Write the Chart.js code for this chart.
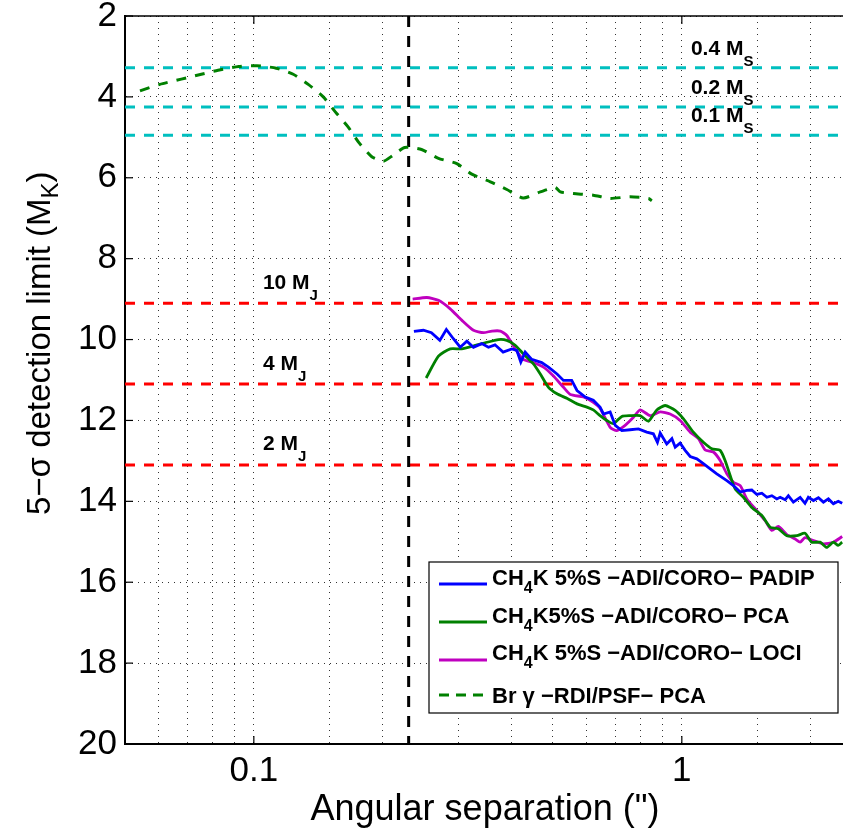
<html>
<head>
<script src="https://cdn.jsdelivr.net/npm/chart.js"></script>
<style>
  body { margin: 0; background: #fff; }
  #wrap { width: 843px; height: 833px; }
</style>
</head>
<body>
<div id="wrap"><canvas id="limits" width="843" height="833"></canvas></div>

<script>
// --- data ---
const xRange = [0.05, 2.38];
const yRange = [2, 20];
const yTicks = [2, 4, 6, 8, 10, 12, 14, 16, 18, 20];
const xTickLabels = [0.1, 1];

// Br gamma, RDI/PSF, PCA (dashed green)
const brgSep = [0.0542, 0.0603, 0.0677, 0.0754, 0.0825, 0.0922, 0.1017, 0.1128, 0.1236, 0.134, 0.1453, 0.155, 0.166, 0.176, 0.1886, 0.2008, 0.2117, 0.2253, 0.2465, 0.27, 0.298, 0.323, 0.357, 0.39, 0.426, 0.467, 0.506, 0.52, 0.558, 0.621, 0.68, 0.757, 0.836, 0.851];
const brgMag = [3.85, 3.69, 3.56, 3.44, 3.34, 3.25, 3.23, 3.29, 3.44, 3.69, 4.0, 4.37, 4.74, 5.13, 5.48, 5.59, 5.44, 5.25, 5.30, 5.52, 5.65, 5.91, 6.10, 6.29, 6.50, 6.35, 6.24, 6.35, 6.39, 6.43, 6.51, 6.47, 6.51, 6.57];

// CH4K 5%S ADI/CORO PADIP (blue)
const padipSep = [0.2366, 0.249, 0.26, 0.272, 0.2817, 0.2926, 0.3035, 0.3146, 0.3259, 0.3408, 0.3533, 0.366, 0.3823, 0.4006, 0.4117, 0.4205, 0.4305, 0.446, 0.4706, 0.488, 0.511, 0.529, 0.553, 0.569, 0.595, 0.621, 0.644, 0.656, 0.68, 0.699, 0.724, 0.757, 0.792, 0.828, 0.858, 0.877, 0.89, 0.922, 0.948, 0.965, 0.991, 1.018, 1.046, 1.084, 1.123, 1.165, 1.207, 1.274, 1.32, 1.369, 1.419, 1.457, 1.497, 1.538, 1.58, 1.623, 1.667, 1.697, 1.744, 1.774, 1.822, 1.89, 1.94, 1.975, 2.03, 2.085, 2.142, 2.2, 2.26, 2.32, 2.37];
const padipMag = [9.80, 9.77, 9.83, 10.02, 9.75, 9.98, 10.19, 10.04, 10.19, 10.10, 10.19, 10.13, 10.31, 10.23, 10.27, 10.56, 10.31, 10.49, 10.57, 10.68, 10.85, 11.01, 11.01, 11.26, 11.42, 11.50, 11.67, 11.84, 11.79, 12.12, 12.25, 12.23, 12.21, 12.29, 12.33, 12.54, 12.31, 12.58, 12.45, 12.66, 12.56, 12.74, 12.89, 12.95, 13.07, 13.20, 13.32, 13.49, 13.61, 13.77, 13.73, 13.72, 13.83, 13.80, 13.90, 13.86, 13.94, 13.90, 13.96, 13.86, 14.02, 13.90, 14.05, 13.90, 13.98, 13.91, 14.02, 13.94, 14.06, 14.00, 14.05];

// CH4K5%S ADI/CORO PCA (green)
const pcaSep = [0.2527, 0.27, 0.2876, 0.306, 0.3259, 0.347, 0.373, 0.39, 0.408, 0.426, 0.45, 0.467, 0.488, 0.511, 0.54, 0.569, 0.60, 0.621, 0.644, 0.668, 0.692, 0.724, 0.757, 0.799, 0.836, 0.874, 0.914, 0.965, 1.009, 1.064, 1.123, 1.175, 1.229, 1.262, 1.297, 1.332, 1.393, 1.457, 1.538, 1.608, 1.681, 1.759, 1.857, 1.94, 2.01, 2.105, 2.18, 2.26, 2.32, 2.37];
const pcaMag = [10.95, 10.41, 10.23, 10.23, 10.16, 10.08, 10.00, 10.02, 10.14, 10.35, 10.60, 10.85, 11.18, 11.34, 11.46, 11.59, 11.67, 11.74, 11.88, 12.00, 12.08, 11.90, 11.88, 11.88, 12.02, 11.74, 11.63, 11.75, 11.96, 12.29, 12.54, 12.70, 12.74, 12.99, 13.36, 13.69, 13.90, 14.15, 14.35, 14.64, 14.68, 14.85, 14.85, 14.79, 15.01, 15.01, 15.14, 15.01, 15.09, 15.01];

// CH4K 5%S ADI/CORO LOCI (magenta)
const lociSep = [0.235, 0.2536, 0.27, 0.2876, 0.306, 0.3259, 0.344, 0.36, 0.3767, 0.39, 0.408, 0.426, 0.45, 0.475, 0.5, 0.529, 0.549, 0.589, 0.621, 0.644, 0.68, 0.705, 0.737, 0.771, 0.799, 0.843, 0.89, 0.939, 0.991, 1.046, 1.093, 1.134, 1.185, 1.229, 1.274, 1.32, 1.369, 1.419, 1.497, 1.566, 1.623, 1.681, 1.759, 1.84, 1.89, 1.94, 2.03, 2.142, 2.26, 2.37];
const lociMag = [9.00, 8.96, 9.03, 9.24, 9.52, 9.77, 9.83, 9.79, 9.79, 9.90, 10.23, 10.49, 10.57, 10.68, 10.89, 11.18, 11.36, 11.42, 11.55, 11.70, 12.17, 12.25, 12.12, 11.92, 11.74, 11.88, 11.79, 11.84, 12.00, 12.29, 12.45, 12.73, 12.78, 12.99, 13.32, 13.53, 13.61, 13.94, 14.23, 14.48, 14.72, 14.62, 14.82, 14.93, 15.01, 14.90, 14.97, 15.05, 15.01, 14.87];

// mass levels
const stellarLevels = [3.28, 4.25, 4.95];
const stellarNames = ['0.4', '0.2', '0.1'];
const planetLevels = [9.1, 11.1, 13.1];
const planetNames = ['10', '4', '2'];
const maskEdge = 0.23;

const FONT = "'Liberation Sans', Arial, Helvetica, sans-serif";

function pts(xs, ys) {
    return xs.map((x, i) => ({x: x, y: ys[i]}));
}

function hline(level, color) {
    return {
        data: [{x: xRange[0], y: level}, {x: xRange[1], y: level}],
        borderColor: color, borderWidth: 3, borderDash: [10, 9],
        pointRadius: 0, fill: false
    };
}

let datasets = [
    {label: 'padip', data: pts(padipSep, padipMag), borderColor: 'rgb(0,0,255)', borderWidth: 2.8, pointRadius: 0, tension: 0},
    {label: 'pca', data: pts(pcaSep, pcaMag), borderColor: 'rgb(0,128,0)', borderWidth: 2.8, pointRadius: 0, tension: 0.2},
    {label: 'loci', data: pts(lociSep, lociMag), borderColor: 'rgb(191,0,191)', borderWidth: 2.8, pointRadius: 0, tension: 0.2},
    {label: 'brg', data: pts(brgSep, brgMag), borderColor: 'rgb(0,128,0)', borderWidth: 3, borderDash: [10, 9], pointRadius: 0, tension: 0.2},
    {label: 'mask', data: [{x: maskEdge, y: yRange[0]}, {x: maskEdge, y: yRange[1]}], borderColor: '#000', borderWidth: 3, borderDash: [11, 9], pointRadius: 0}
];
stellarLevels.forEach(l => datasets.push(hline(l, 'rgb(0,191,191)')));
planetLevels.forEach(l => datasets.push(hline(l, 'rgb(255,0,0)')));

// draws "main" then a subscript, returns end x
function subText(ctx, x, y, main, sub, size, subSize, drop, weight) {
    ctx.font = weight + ' ' + size + 'px ' + FONT;
    ctx.fillText(main, x, y);
    let w = ctx.measureText(main).width;
    ctx.font = weight + ' ' + subSize + 'px ' + FONT;
    ctx.fillText(sub, x + w, y + drop);
    return x + w + ctx.measureText(sub).width;
}

const decorations = {
    id: 'decorations',
    afterDraw(chart) {
        const ctx = chart.ctx;
        const xs = chart.scales.x, ys = chart.scales.y;
        const area = chart.chartArea;
        ctx.save();
        ctx.fillStyle = '#000';
        ctx.textAlign = 'left';
        ctx.textBaseline = 'alphabetic';

        // top border
        ctx.strokeStyle = '#000';
        ctx.lineWidth = 1.5;
        ctx.beginPath();
        ctx.moveTo(area.left, area.top);
        ctx.lineTo(area.right, area.top);
        ctx.stroke();

        // inward tick marks
        ctx.lineWidth = 1.2;
        yTicks.forEach(v => {
            let py = ys.getPixelForValue(v);
            ctx.beginPath();
            ctx.moveTo(area.left, py);
            ctx.lineTo(area.left + 8, py);
            ctx.stroke();
        });
        xTickLabels.forEach(v => {
            let px = xs.getPixelForValue(v);
            ctx.beginPath();
            ctx.moveTo(px, area.bottom);
            ctx.lineTo(px, area.bottom - 8);
            ctx.moveTo(px, area.top);
            ctx.lineTo(px, area.top + 8);
            ctx.stroke();
        });

        // mass labels
        stellarLevels.forEach((l, i) => {
            let px = xs.getPixelForValue(1.05);
            let py = ys.getPixelForValue(l) - 13;
            subText(ctx, px, py, stellarNames[i] + ' M', 'S', 21, 15, 11, 'bold');
        });
        planetLevels.forEach((l, i) => {
            let px = xs.getPixelForValue(0.105);
            let py = ys.getPixelForValue(l) - 14.5;
            subText(ctx, px, py, planetNames[i] + ' M', 'J', 21, 15, 11, 'bold');
        });

        // legend
        const lx = 429, ly = 562, lw = 409, lh = 151;
        ctx.fillStyle = '#fff';
        ctx.fillRect(lx, ly, lw, lh);
        ctx.strokeStyle = '#000';
        ctx.lineWidth = 1.2;
        ctx.strokeRect(lx, ly, lw, lh);
        const rows = [
            {color: 'rgb(0,0,255)', dash: [], ly: 584, base: 585, parts: ['CH', '4', 'K 5%S \u2212ADI/CORO\u2212 PADIP']},
            {color: 'rgb(0,128,0)', dash: [], ly: 622, base: 623, parts: ['CH', '4', 'K5%S \u2212ADI/CORO\u2212 PCA']},
            {color: 'rgb(191,0,191)', dash: [], ly: 660, base: 660, parts: ['CH', '4', 'K 5%S \u2212ADI/CORO\u2212 LOCI']},
            {color: 'rgb(0,128,0)', dash: [10, 7], ly: 695, base: 703, parts: ['Br \u03b3 \u2212RDI/PSF\u2212 PCA']}
        ];
        rows.forEach(r => {
            ctx.strokeStyle = r.color;
            ctx.lineWidth = 2.8;
            ctx.setLineDash(r.dash);
            ctx.beginPath();
            ctx.moveTo(439, r.ly);
            ctx.lineTo(487, r.ly);
            ctx.stroke();
            ctx.setLineDash([]);
            ctx.fillStyle = '#000';
            if (r.parts.length === 3) {
                let ex = subText(ctx, 492, r.base, r.parts[0], r.parts[1], 22, 16, 8, 'bold');
                ctx.font = 'bold 22px ' + FONT;
                ctx.fillText(r.parts[2], ex, r.base);
            } else {
                ctx.font = 'bold 22px ' + FONT;
                ctx.fillText(r.parts[0], 492, r.base);
            }
        });

        // axis titles
        ctx.fillStyle = '#000';
        ctx.font = '36px ' + FONT;
        ctx.textAlign = 'center';
        ctx.fillText('Angular separation (")', 485, 820);

        ctx.save();
        ctx.translate(50, 515);
        ctx.rotate(-Math.PI / 2);
        ctx.textAlign = 'left';
        let ex = subText(ctx, 0, 0, '5\u2212\u03c3 detection limit (M', 'K', 33, 24, 8, 'normal');
        ctx.font = '33px ' + FONT;
        ctx.fillText(')', ex, 0);
        ctx.restore();

        ctx.restore();
    }
};

const ctx = document.getElementById('limits').getContext('2d');
new Chart(ctx, {
    type: 'line',
    data: {datasets: datasets},
    options: {
        responsive: false,
        animation: false,
        layout: {padding: {top: 16, right: 0, left: 0, bottom: 0}},
        plugins: {legend: {display: false}, tooltip: {enabled: false}},
        scales: {
            x: {
                type: 'logarithmic',
                min: xRange[0], max: xRange[1],
                afterFit: s => { s.height = 89; s.paddingLeft = 0; s.paddingRight = 0; },
                grid: {color: '#333', lineWidth: 1, drawTicks: false},
                border: {color: '#000', width: 2, dash: [1, 5]},
                ticks: {
                    autoSkip: false, maxRotation: 0, padding: 6, color: '#000',
                    font: {family: FONT, size: 35},
                    callback: v => xTickLabels.some(t => Math.abs(t - v) < 1e-9) ? String(v) : ''
                }
            },
            y: {
                reverse: true,
                min: yRange[0], max: yRange[1],
                afterFit: s => { s.width = 125; s.paddingTop = 0; s.paddingBottom = 0; },
                grid: {color: '#333', lineWidth: 1, drawTicks: false},
                border: {color: '#000', width: 2, dash: [1, 5]},
                ticks: {
                    stepSize: 2, padding: 8, color: '#000',
                    font: {family: FONT, size: 35}
                }
            }
        }
    },
    plugins: [decorations]
});
</script>
</body>
</html>
